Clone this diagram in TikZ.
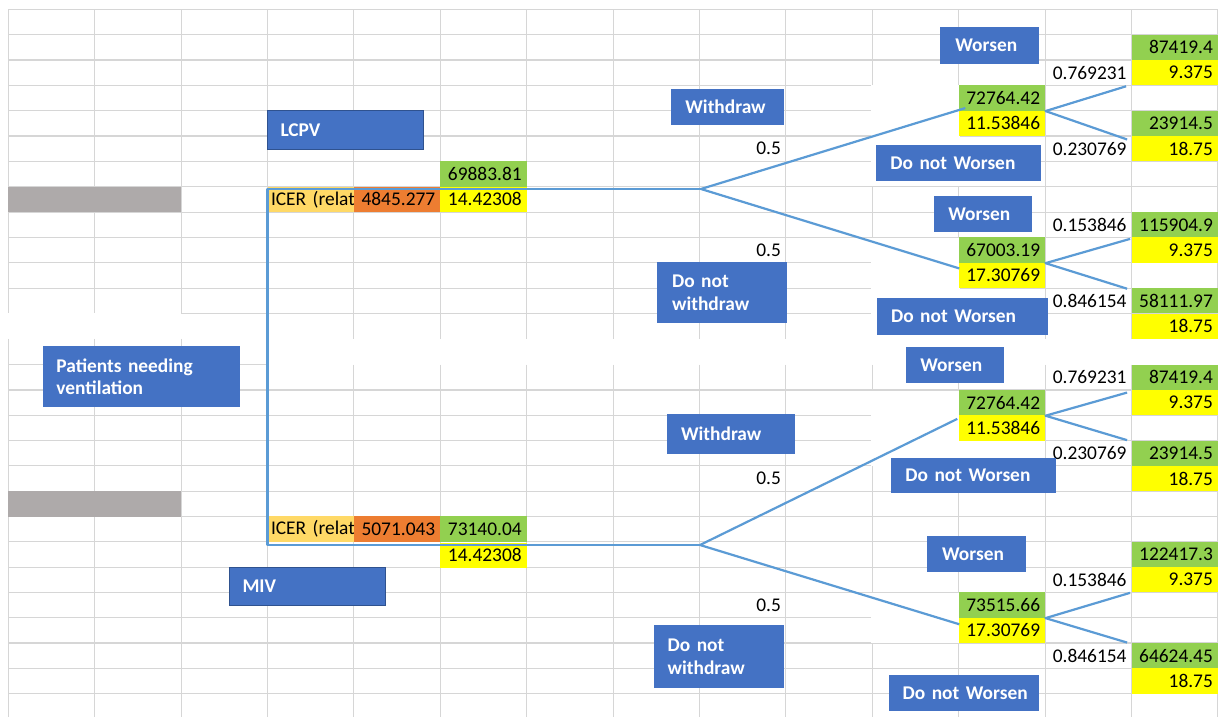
\documentclass[tikz,border=0pt]{standalone}
\usepackage{fontspec}
\setmainfont{Carlito}
\usetikzlibrary{calc}
\definecolor{cblue}{HTML}{4472C4}
\definecolor{cbluedark}{HTML}{2F528F}
\definecolor{cgreen}{HTML}{92D050}
\definecolor{cyellow}{HTML}{FFFF00}
\definecolor{corange}{HTML}{ED7D31}
\definecolor{clorange}{HTML}{FFD966}
\definecolor{cgray}{HTML}{AEAAAA}
\definecolor{cline}{HTML}{5B9BD5}
\definecolor{cgrid}{HTML}{D6D6D6}
\newcommand{\cellfont}{\fontsize{9.7}{11.2}\selectfont}
\newcommand{\boxfont}{\fontsize{9.7}{11.4}\selectfont\bfseries}
\begin{document}
\begin{tikzpicture}[x=0.5pt,y=-0.5pt,
 gridline/.style={draw=cgrid, line width=0.55pt},
 patch/.style={fill=white},
 graybar/.style={fill=cgray},
 cell/.style={rectangle, inner xsep=2.5pt, inner ysep=0pt, text width=38.2pt, minimum height=12.675pt, align=right, font=\cellfont, text=black},
 gcell/.style={cell, fill=cgreen},
 ycell/.style={cell, fill=cyellow},
 ocell/.style={cell, fill=corange},
 icell/.style={cell, fill=clorange, align=left, inner xsep=1.75pt, text width=39.7pt},
 lbl/.style n args={3}{fill=cblue, text=white, font=\boxfont, inner sep=0pt, anchor=north west, align=left, text width=#1, minimum height=#2, execute at begin node={\leftskip=#3\relax}},
 edged/.style={draw=cbluedark, line width=0.5pt},
 tree/.style={draw=cline, line width=1.1pt, line join=round}
]
\useasboundingbox (0,0) rectangle (1223,717);
\fill[white] (0,0) rectangle (1223,717);

% ---- spreadsheet grid, top part
\foreach \j in {0,...,11} \draw[gridline] (8.3,{9.3+25.35*\j}) -- (1217.9,{9.3+25.35*\j});
\draw[gridline] (181.1,313.5) -- (1217.9,313.5);
\foreach \i in {0,1,2} \draw[gridline] ({8.3+86.4*\i},9.3) -- ({8.3+86.4*\i},313.5);
\foreach \i in {3,...,14} \draw[gridline] ({8.3+86.4*\i},9.3) -- ({8.3+86.4*\i},338.85);
% ---- spreadsheet grid, bottom part
\draw[gridline] (8.3,364.7) -- (267.5,364.7);
\foreach \k in {1,...,13} \draw[gridline] (8.3,{364.7+25.3*\k}) -- (1217.9,{364.7+25.3*\k});
\foreach \i in {0,1,2} \draw[gridline] ({8.3+86.4*\i},338.85) -- ({8.3+86.4*\i},717);
\foreach \i in {3,...,14} \draw[gridline] ({8.3+86.4*\i},364.7) -- ({8.3+86.4*\i},717);
% ---- areas without grid
\path[patch] (871.3,85) rectangle (959.7,186.3);
\path[patch] (871.3,238) rectangle (959.7,340);
\path[patch] (871.3,390.5) rectangle (959.7,465.5);
\path[patch] (871.3,592.9) rectangle (959.2,642.5);

% ---- grey bars
\path[graybar] (8.3,186.75) rectangle (181.1,212.1);
\path[graybar] (8.3,491.2) rectangle (181.1,516.5);

% ---- LCPV branch cells
\node[icell] (icerA) at (310.7,199.4) {\mbox{ICER (relat}};
\node[ocell] (icerAv) at (397.1,199.4) {4845.277};
\node[gcell] (lcA) at (483.5,174.1) {69883.81};
\node[ycell] (lcB) at (483.5,199.4) {14.42308};
\node[cell] (pA1) at (742.7,148.7) {0.5};
\node[cell] (pA2) at (742.7,250.1) {0.5};

\node[gcell] (n1g) at (1001.9,98.0) {72764.42};
\node[ycell] (n1y) at (1001.9,123.4) {11.53846};
\node[gcell] (l1g) at (1174.7,47.3) {87419.4};
\node[ycell] (l1y) at (1174.7,72.7) {9.375};
\node[cell] (p1) at (1088.3,72.7) {0.769231};
\node[gcell] (l2g) at (1174.7,123.4) {23914.5};
\node[ycell] (l2y) at (1174.7,148.7) {18.75};
\node[cell] (p2) at (1088.3,148.7) {0.230769};

\node[gcell] (n2g) at (1001.9,250.1) {67003.19};
\node[ycell] (n2y) at (1001.9,275.5) {17.30769};
\node[gcell] (l3g) at (1174.7,224.8) {115904.9};
\node[ycell] (l3y) at (1174.7,250.1) {9.375};
\node[cell] (p3) at (1088.3,224.8) {0.153846};
\node[gcell] (l4g) at (1174.7,300.8) {58111.97};
\node[ycell] (l4y) at (1174.7,326.2) {18.75};
\node[cell] (p4) at (1088.3,300.8) {0.846154};

% ---- MIV branch cells
\node[icell] (icerB) at (310.7,529.15) {\mbox{ICER (relat}};
\node[ocell] (icerBv) at (397.1,529.15) {5071.043};
\node[gcell] (mvg) at (483.5,529.15) {73140.04};
\node[ycell] (mvy) at (483.5,555.3) {14.42308};
\node[cell] (pB1) at (742.7,478.55) {0.5};
\node[cell] (pB2) at (742.7,605.05) {0.5};

\node[gcell] (n3g) at (1001.9,402.65) {72764.42};
\node[ycell] (n3y) at (1001.9,427.95) {11.53846};
\node[gcell] (l5g) at (1174.7,377.35) {87419.4};
\node[ycell] (l5y) at (1174.7,402.65) {9.375};
\node[cell] (p5) at (1088.3,377.35) {0.769231};
\node[gcell] (l6g) at (1174.7,453.25) {23914.5};
\node[ycell] (l6y) at (1174.7,478.55) {18.75};
\node[cell] (p6) at (1088.3,453.25) {0.230769};

\node[gcell] (n4g) at (1001.9,605.05) {73515.66};
\node[ycell] (n4y) at (1001.9,630.35) {17.30769};
\node[gcell] (l7g) at (1174.7,554.45) {122417.3};
\node[ycell] (l7y) at (1174.7,579.75) {9.375};
\node[cell] (p7) at (1088.3,579.75) {0.153846};
\node[gcell] (l8g) at (1174.7,655.65) {64624.45};
\node[ycell] (l8y) at (1174.7,680.95) {18.75};
\node[cell] (p8) at (1088.3,655.65) {0.846154};

% ---- blue label boxes
\node[lbl={78pt}{19.5pt}{6.5pt}, edged] (lcpv) at (267,110) {LCPV};
\node[lbl={98.5pt}{30.35pt}{6.5pt}] (patients) at (43,346) {Patients needing\\ventilation};
\node[lbl={78pt}{19.15pt}{6.5pt}, edged] (miv) at (229,566.7) {MIV};

\node[lbl={56.35pt}{18.2pt}{7pt}] (wdA) at (671,88.3) {Withdraw};
\node[lbl={65pt}{30.35pt}{7.35pt}] (dnwA) at (657,262) {Do not\\withdraw};
\node[lbl={64pt}{19.85pt}{6.85pt}] (wdB) at (667,414) {Withdraw};
\node[lbl={65pt}{31.35pt}{6.65pt}] (dnwB) at (654,625) {Do not\\withdraw};

\node[lbl={49.5pt}{18.3pt}{7.5pt}] (wo1) at (940,26.7) {Worsen};
\node[lbl={82.5pt}{18pt}{7pt}] (dnw1) at (876,145) {Do not Worsen};
\node[lbl={48.85pt}{17.85pt}{7pt}] (wo2) at (934,196) {Worsen};
\node[lbl={85.5pt}{18.3pt}{7pt}] (dnw2) at (876.7,297.7) {Do not Worsen};
\node[lbl={49pt}{18pt}{7pt}] (wo3) at (906,346.7) {Worsen};
\node[lbl={82.5pt}{17.7pt}{7pt}] (dnw3) at (891,457.3) {Do not Worsen};
\node[lbl={49.65pt}{17.85pt}{7.5pt}] (wo4) at (926.7,536) {Worsen};
\node[lbl={75.35pt}{17.85pt}{7pt}] (dnw4) at (888.3,675) {Do not Worsen};

% ---- decision tree connectors
\coordinate (rootT) at (267.5,189);
\coordinate (rootB) at (267.5,545);
\coordinate (forkA) at (701,189);
\coordinate (forkB) at (700,545);
\draw[tree] (forkA) -- (rootT) -- (rootB) -- (forkB);
\draw[tree] (forkA) -- ($(n1g.south west)+(7,-3)$);
\draw[tree] (forkA) -- ($(n2y.north west)+(1,6)$);
\draw[tree] (forkB) -- ($(n3y.north west)+(-1,4)$);
\draw[tree] (forkB) -- ($(n4y.north west)+(1,7)$);

\draw[tree] ($(l1y.south west)+(-5,0.5)$) -- (n1g.south east) -- ($(l2g.south west)+(-4,3)$);
\draw[tree] ($(l3g.south west)+(-1,1)$) -- (n2g.south east) -- ($(l4g.north west)+(-4,1)$);
\draw[tree] ($(l5y.north west)+(-4,3)$) -- (n3g.south east) -- ($(l6g.north west)+(-4,0)$);
\draw[tree] ($(l7y.south west)+(-1,0)$) -- (n4g.south east) -- ($(l8g.north west)+(-4,0)$);
\end{tikzpicture}
\end{document}
